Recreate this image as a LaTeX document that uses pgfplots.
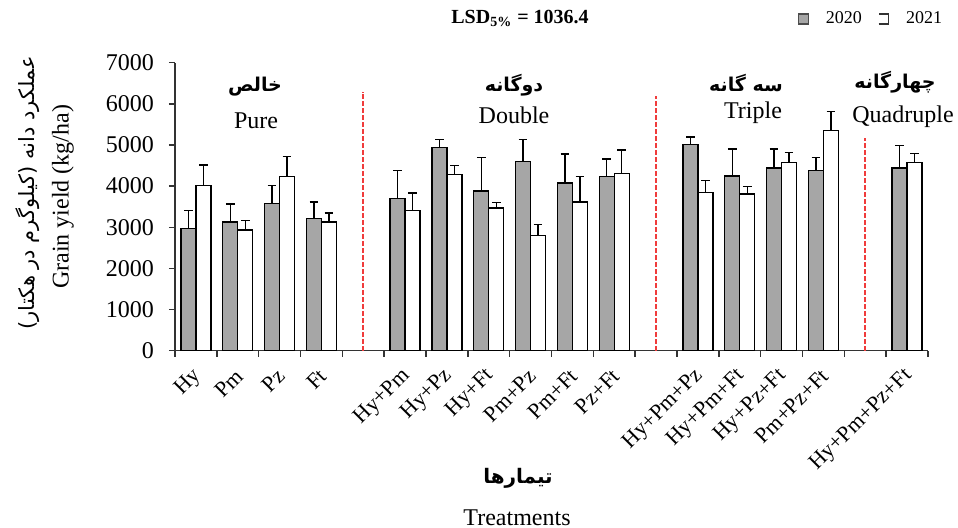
\documentclass[border=0pt]{standalone}
\usepackage{fontspec}
\setmainfont{Liberation Serif}
\newfontfamily\arabicfont[Script=Arabic]{DejaVu Sans}
\usepackage{pgfplots}
\pgfplotsset{compat=1.18}
\usepackage{pgfplotstable}
\TeXXeTstate=1
\definecolor{barGray}{RGB}{166,166,166}
\definecolor{sepRed}{RGB}{240,60,60}

\pgfplotstableread{
x y20 e20 y21 e21
0 2970 440 4020 490
1 3130 440 2930 230
2 3580 440 4240 480
3 3210 400 3130 220
5 3700 680 3410 420
6 4940 200 4280 225
7 3880 810 3470 135
8 4600 540 2800 270
9 4080 700 3610 630
10 4240 420 4300 580
12 5010 180 3840 300
13 4250 650 3810 185
14 4440 460 4580 240
15 4380 310 5350 460
17 4440 550 4580 210
}\data

\begin{document}
\begin{tikzpicture}
\useasboundingbox (0,0) rectangle (479pt,264pt);
\begin{axis}[
  at={(87.5pt,88.65pt)}, anchor=south west,
  scale only axis, width=376.5pt, height=144pt,
  xmin=-0.5, xmax=17.5, ymin=0, ymax=7000,
  ybar=0pt, bar width=7.5pt,
  axis lines*=left,
  axis line style={line width=0.7pt, black!80},
  tick align=outside, major tick length=0pt, minor tick length=3pt,
  tick style={line width=0.7pt, black!80},
  xtick={0,1,2,3,5,6,7,8,9,10,12,13,14,15,17},
  xticklabels={Hy,Pm,Pz,Ft,Hy+Pm,Hy+Pz,Hy+Ft,Pm+Pz,Pm+Ft,Pz+Ft,Hy+Pm+Pz,Hy+Pm+Ft,Hy+Pz+Ft,Pm+Pz+Ft,Hy+Pm+Pz+Ft},
  minor xtick={-0.5,0.5,...,17.5},
  xticklabel style={rotate=45, anchor=east, font=\fontsize{11}{12}\selectfont, inner sep=1pt, xshift=-6pt, yshift=-8.5pt},
  ytick={0,1000,...,7000},
  minor ytick={0,1000,...,7000},
  yticklabel style={font=\fontsize{12}{13}\selectfont, xshift=-7pt},
  /pgf/number format/1000 sep={},
  /pgf/number format/assume math mode=true,
  legend style={at={(0.9256,1.152)}, anchor=center, draw=none, fill=none,
    legend columns=2, font=\fontsize{9}{10}\selectfont,
    /tikz/every odd column/.append style={column sep=6.5pt},
    /tikz/every even column/.append style={column sep=6pt}},
]
\addplot[fill=barGray, draw=black, line width=0.7pt,
  legend image code/.code={\path[fill=barGray, draw=black!70, line width=0.6pt] (0pt,-2.5pt) rectangle (5pt,2.5pt);},
  error bars/.cd, y dir=plus, y explicit,
  error bar style={black, line width=0.7pt},
  error mark options={black, line width=0.7pt, mark size=2.2pt, rotate=90}]
  table[x=x, y=y20, y error=e20]{\data};
\addlegendentry{2020}
\addplot[fill=white, draw=black, line width=0.7pt,
  legend image code/.code={\path[draw=black!80, fill=none, line width=0.6pt] (0pt,-2.5pt) -- (5pt,-2.5pt) -- (5pt,2.5pt) -- (0pt,2.5pt);},
  error bars/.cd, y dir=plus, y explicit,
  error bar style={black, line width=0.7pt},
  error mark options={black, line width=0.7pt, mark size=2.2pt, rotate=90}]
  table[x=x, y=y21, y error=e21]{\data};
\addlegendentry{2021}
\draw[sepRed, line width=0.8pt, dash pattern=on 2.2pt off 1.3pt] (axis cs:4,0) -- (axis cs:4,6300);
\draw[sepRed, line width=0.8pt, dash pattern=on 2.2pt off 1.3pt] (axis cs:11,0) -- (axis cs:11,6180);
\draw[sepRed, line width=0.8pt, dash pattern=on 2.2pt off 1.3pt] (axis cs:16,0) -- (axis cs:16,5170);
\end{axis}
% title
\node[font=\bfseries\fontsize{10}{12}\selectfont] at (260pt,255pt) {LSD\textsubscript{5\%} = 1036.4};
% group labels
\node[font=\arabicfont\bfseries\fontsize{9.5}{12}\selectfont] at (127.5pt,220.5pt) {\beginR خالص\endR};
\node[font=\fontsize{12}{13}\selectfont] at (128pt,203.5pt) {Pure};
\node[font=\arabicfont\bfseries\fontsize{9.5}{12}\selectfont] at (257pt,221.5pt) {\beginR دوگانه\endR};
\node[font=\fontsize{12}{13}\selectfont] at (257pt,206.5pt) {Double};
\node[font=\arabicfont\bfseries\fontsize{9.5}{12}\selectfont] at (373pt,222.5pt) {\beginR سه گانه\endR};
\node[font=\fontsize{12}{13}\selectfont] at (376.5pt,207.5pt) {Triple};
\node[font=\arabicfont\bfseries\fontsize{9.5}{12}\selectfont] at (447.5pt,223pt) {\beginR چهارگانه\endR};
\node[font=\fontsize{12}{13}\selectfont] at (451.5pt,205.5pt) {Quadruple};
% axis titles
\node[rotate=90, font=\fontsize{12}{13}\selectfont] at (31.5pt,165.5pt) {Grain yield (kg/ha)};
\node[rotate=90, font=\arabicfont\fontsize{10.5}{12}\selectfont] at (14pt,167.5pt) {\beginR عملکرد دانه (کیلوگرم در هکتار)\endR};
\node[font=\arabicfont\bfseries\fontsize{10}{12}\selectfont] at (259pt,25pt) {\beginR تیمارها\endR};
\node[font=\fontsize{12}{13}\selectfont] at (258.5pt,5pt) {Treatments};
\end{tikzpicture}
\end{document}
